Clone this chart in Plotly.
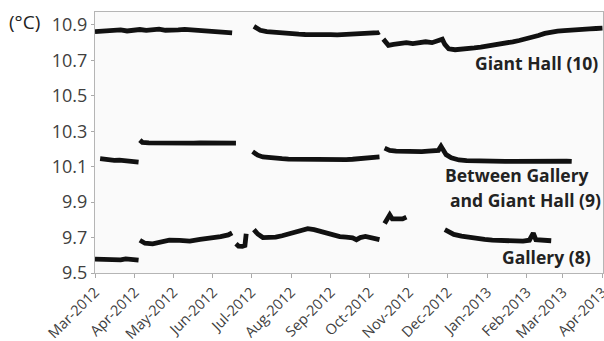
import plotly.graph_objects as go

# ---------------- data ----------------
giant_dates = [
    "2012-03-01", "2012-03-06", "2012-03-11", "2012-03-16", "2012-03-21", "2012-03-26", "2012-03-31",
    "2012-04-05", "2012-04-10", "2012-04-15", "2012-04-20", "2012-04-25", "2012-04-30", "2012-05-05",
    "2012-05-10", "2012-05-15", "2012-05-20", "2012-05-25", "2012-05-30", "2012-06-04", "2012-06-09",
    "2012-06-14", "2012-06-16",
    None,
    "2012-07-03", "2012-07-05", "2012-07-08", "2012-07-13", "2012-07-18", "2012-07-23", "2012-07-28",
    "2012-08-02", "2012-08-07", "2012-08-12", "2012-08-17", "2012-08-22", "2012-08-27", "2012-09-01",
    "2012-09-06", "2012-09-11", "2012-09-16", "2012-09-21", "2012-09-26", "2012-10-01", "2012-10-05",
    "2012-10-08", "2012-10-09",
    None,
    "2012-10-12", "2012-10-16", "2012-10-20", "2012-10-25", "2012-10-30", "2012-11-04", "2012-11-09",
    "2012-11-14", "2012-11-19", "2012-11-24", "2012-11-27", "2012-11-29", "2012-12-02", "2012-12-07",
    "2012-12-12", "2012-12-17", "2012-12-22", "2012-12-27", "2013-01-01", "2013-01-06", "2013-01-11",
    "2013-01-16", "2013-01-21", "2013-01-26", "2013-01-31", "2013-02-05", "2013-02-10", "2013-02-15",
    "2013-02-20", "2013-02-25", "2013-03-02", "2013-03-07", "2013-03-12", "2013-03-17", "2013-03-22",
    "2013-03-27", "2013-04-01",
]
giant_values = [
    10.862, 10.866, 10.864, 10.868, 10.872, 10.866, 10.870,
    10.874, 10.869, 10.872, 10.876, 10.870, 10.868, 10.872,
    10.875, 10.872, 10.868, 10.866, 10.864, 10.860, 10.858,
    10.856, 10.855,
    None,
    10.892, 10.880, 10.870, 10.862, 10.858, 10.855, 10.852,
    10.850, 10.848, 10.846, 10.847, 10.845, 10.843, 10.845,
    10.844, 10.846, 10.845, 10.847, 10.846, 10.848, 10.850,
    10.856, 10.860,
    None,
    10.820, 10.785, 10.790, 10.795, 10.800, 10.795, 10.800,
    10.805, 10.800, 10.810, 10.820, 10.790, 10.765, 10.760,
    10.762, 10.765, 10.770, 10.775, 10.780, 10.785, 10.790,
    10.800, 10.805, 10.812, 10.820, 10.830, 10.840, 10.852,
    10.860, 10.865, 10.868, 10.872, 10.874, 10.877, 10.878,
    10.880, 10.882,
]

between_dates = [
    "2012-03-05", "2012-03-08", "2012-03-12", "2012-03-16", "2012-03-20", "2012-03-24", "2012-03-28",
    "2012-04-01", "2012-04-04",
    None,
    "2012-04-05", "2012-04-07", "2012-04-12", "2012-04-17", "2012-04-22", "2012-04-27", "2012-05-02",
    "2012-05-07", "2012-05-12", "2012-05-17", "2012-05-22", "2012-05-27", "2012-06-01", "2012-06-06",
    "2012-06-11", "2012-06-16", "2012-06-19",
    None,
    "2012-07-02", "2012-07-06", "2012-07-10", "2012-07-15", "2012-07-20", "2012-07-25", "2012-07-30",
    "2012-08-04", "2012-08-09", "2012-08-14", "2012-08-19", "2012-08-24", "2012-08-29", "2012-09-03",
    "2012-09-08", "2012-09-13", "2012-09-18", "2012-09-23", "2012-09-28", "2012-10-03", "2012-10-09",
    None,
    "2012-10-13", "2012-10-17", "2012-10-22", "2012-10-27", "2012-11-01", "2012-11-06", "2012-11-11",
    "2012-11-16", "2012-11-21", "2012-11-24", "2012-11-26", "2012-11-30", "2012-12-04", "2012-12-10",
    "2012-12-16", "2012-12-22", "2012-12-28", "2013-01-03", "2013-01-09", "2013-01-15", "2013-01-21",
    "2013-01-27", "2013-02-02", "2013-02-08", "2013-02-14", "2013-02-20", "2013-02-26", "2013-03-04",
    "2013-03-08",
]
between_values = [
    10.145, 10.142, 10.138, 10.136, 10.137, 10.134, 10.132,
    10.128, 10.126,
    None,
    10.250, 10.237, 10.234, 10.233, 10.234, 10.233, 10.233,
    10.234, 10.233, 10.233, 10.234, 10.235, 10.234, 10.234,
    10.233, 10.233, 10.233,
    None,
    10.185, 10.165, 10.155, 10.150, 10.147, 10.145, 10.143,
    10.142, 10.141, 10.140, 10.140, 10.139, 10.140, 10.139,
    10.141, 10.140, 10.142, 10.144, 10.146, 10.150, 10.155,
    None,
    10.205, 10.192, 10.188, 10.186, 10.185, 10.187, 10.185,
    10.188, 10.190, 10.192, 10.215, 10.168, 10.150, 10.138,
    10.134, 10.132, 10.131, 10.130, 10.131, 10.130, 10.130,
    10.131, 10.130, 10.130, 10.131, 10.130, 10.130, 10.131,
    10.130,
]

gallery_dates = [
    "2012-03-01", "2012-03-05", "2012-03-09", "2012-03-13", "2012-03-17", "2012-03-21", "2012-03-25",
    "2012-03-29", "2012-04-04",
    None,
    "2012-04-05", "2012-04-09", "2012-04-15", "2012-04-21", "2012-04-28", "2012-05-06", "2012-05-14",
    "2012-05-22", "2012-05-30", "2012-06-07", "2012-06-13", "2012-06-16",
    None,
    "2012-06-19", "2012-06-21", "2012-06-24", "2012-06-26", "2012-06-27",
    None,
    "2012-07-03", "2012-07-06", "2012-07-10", "2012-07-15", "2012-07-20", "2012-07-25", "2012-07-30",
    "2012-08-04", "2012-08-09", "2012-08-14", "2012-08-19", "2012-08-24", "2012-08-29", "2012-09-03",
    "2012-09-08", "2012-09-13", "2012-09-18", "2012-09-21", "2012-09-24", "2012-09-28", "2012-10-03",
    "2012-10-09",
    None,
    "2012-10-13", "2012-10-15", "2012-10-17", "2012-10-19", "2012-10-23", "2012-10-27", "2012-10-30",
    None,
    "2012-11-29", "2012-12-02", "2012-12-06", "2012-12-12", "2012-12-18", "2012-12-24", "2012-12-30",
    "2013-01-05", "2013-01-11", "2013-01-17", "2013-01-23", "2013-01-29", "2013-02-03", "2013-02-06",
    "2013-02-08", "2013-02-12", "2013-02-16", "2013-02-20",
]
gallery_values = [
    9.578, 9.576, 9.577, 9.575, 9.576, 9.574, 9.580,
    9.576, 9.573,
    None,
    9.685, 9.668, 9.664, 9.675, 9.685, 9.684, 9.680,
    9.690, 9.695, 9.705, 9.715, 9.727,
    None,
    9.665, 9.652, 9.650, 9.655, 9.722,
    None,
    9.745, 9.720, 9.700, 9.698, 9.702, 9.710, 9.720,
    9.735, 9.742, 9.750, 9.745, 9.735, 9.720, 9.710,
    9.705, 9.702, 9.698, 9.688, 9.700, 9.706, 9.695,
    9.688,
    None,
    9.780, 9.800, 9.828, 9.805, 9.802, 9.805, 9.815,
    None,
    9.745, 9.730, 9.718, 9.708, 9.700, 9.695, 9.690,
    9.685, 9.683, 9.680, 9.678, 9.680, 9.685, 9.725,
    9.688, 9.685, 9.683, 9.682,
]

y_tick_values = [9.5, 9.7, 9.9, 10.1, 10.3, 10.5, 10.7, 10.9]
y_tick_labels = ["9.5", "9.7", "9.9", "10.1", "10.3", "10.5", "10.7", "10.9"]
x_tick_dates = [
    "2012-03-01", "2012-04-01", "2012-05-01", "2012-06-01", "2012-07-01", "2012-08-01", "2012-09-01",
    "2012-10-01", "2012-11-01", "2012-12-01", "2013-01-01", "2013-02-01", "2013-03-01", "2013-04-01",
]
x_tick_labels = [
    "Mar-2012", "Apr-2012", "May-2012", "Jun-2012", "Jul-2012", "Aug-2012", "Sep-2012",
    "Oct-2012", "Nov-2012", "Dec-2012", "Jan-2013", "Feb-2013", "Mar-2013", "Apr-2013",
]

# ---------------- figure ----------------
fig = go.Figure()
line_style = dict(color="#111111", width=4.8)
for name, xs, ys in [
    ("Giant Hall (10)", giant_dates, giant_values),
    ("Between Gallery and Giant Hall (9)", between_dates, between_values),
    ("Gallery (8)", gallery_dates, gallery_values),
]:
    fig.add_trace(go.Scatter(x=xs, y=ys, mode="lines", name=name, line=line_style,
                             connectgaps=False, showlegend=False))

font_family = "Open Sans, Noto Sans, sans-serif"

fig.update_layout(
    template="none",
    width=604, height=341,
    margin=dict(l=95, r=1, t=12, b=68),
    paper_bgcolor="white",
    plot_bgcolor="#fafafa",
    font=dict(family=font_family, color="#333333"),
    xaxis=dict(
        type="date",
        range=["2012-03-01", "2013-04-01 10:00"],
        tickvals=x_tick_dates, ticktext=x_tick_labels,
        tickangle=-45,
        tickfont=dict(size=14.5, color="#404040", family=font_family),
        ticks="outside", ticklen=4, tickcolor="#aaaaaa",
        ticklabeloverflow="allow",
        showgrid=False, zeroline=False,
        showline=True, linecolor="#b5b5b5", linewidth=1, mirror=True,
        automargin=False,
    ),
    yaxis=dict(
        range=[9.5, 10.973],
        tickvals=y_tick_values, ticktext=y_tick_labels,
        tickfont=dict(size=18, color="#404040", family=font_family),
        ticks="outside", ticklen=3, tickcolor="#aaaaaa",
        showgrid=False, zeroline=False,
        showline=True, linecolor="#b5b5b5", linewidth=1, mirror=True,
        automargin=False,
    ),
)

label_font = dict(family=font_family, size=17.5, color="#222222")
annotations = [
    dict(text="<b>Giant Hall (10)</b>", x=(600 - 95) / 508, y=(273 - 63) / 261),
    dict(text="<b>Between Gallery</b>", x=(591 - 95) / 508, y=(273 - 175) / 261),
    dict(text="<b>and Giant Hall (9)</b>", x=(603 - 95) / 508, y=(273 - 200) / 261),
    dict(text="<b>Gallery (8)</b>", x=(593 - 95) / 508, y=(273 - 257) / 261),
]
for a in annotations:
    fig.add_annotation(xref="paper", yref="paper", xanchor="right", yanchor="middle",
                       showarrow=False, font=label_font, **a)

fig.add_annotation(text="(°C)", xref="paper", yref="paper", x=(7 - 95) / 508, y=(273 - 22) / 261,
                   xanchor="left", yanchor="middle", showarrow=False,
                   font=dict(family=font_family, size=19, color="#222222"))

fig.write_html("out.html", config={"displayModeBar": False},
               post_script="document.body.style.margin='0';document.body.style.overflow='hidden';")
